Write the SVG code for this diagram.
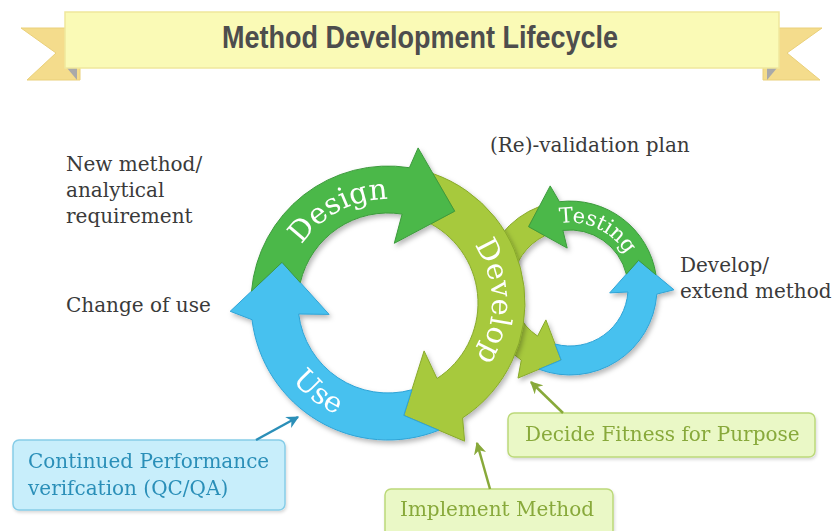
<svg xmlns="http://www.w3.org/2000/svg" width="833" height="531" viewBox="0 0 833 531">
<defs>
<style>
.lbl{font-family:"DejaVu Serif","Liberation Serif",serif;font-size:20px;fill:#3a3a3a}
.arr{font-family:"DejaVu Serif","Liberation Serif",serif;fill:#ffffff}
.dg{fill:#4cb849;stroke:#3c9a3c;stroke-width:1}
.lg{fill:#a7c93c;stroke:#88a92c;stroke-width:1}
.bl{fill:#47c1ef;stroke:#2ea3d6;stroke-width:1}
.gbox{fill:#eaf8c6;stroke:#bcd97a;stroke-width:1.5}
.gtxt{font-family:"DejaVu Serif","Liberation Serif",serif;font-size:20px;fill:#88a93a}
.bbox{fill:#c8eefb;stroke:#86cde8;stroke-width:1.5}
.btxt{font-family:"DejaVu Serif","Liberation Serif",serif;font-size:20px;fill:#2b8fb8}
</style>
<filter id="sh" x="-20%" y="-20%" width="140%" height="140%">
<feDropShadow dx="2" dy="3" stdDeviation="2.5" flood-color="#000" flood-opacity="0.28"/>
</filter>
<filter id="sh2" x="-10%" y="-20%" width="120%" height="150%">
<feDropShadow dx="1" dy="2" stdDeviation="1.5" flood-color="#000" flood-opacity="0.15"/>
</filter>
<marker id="ahg" viewBox="0 0 10 10" refX="9" refY="5" markerWidth="5" markerHeight="5" orient="auto" markerUnits="strokeWidth">
<path d="M0,0 L10,5 L0,10 L3,5 Z" fill="#88a93a"/>
</marker>
<marker id="ahb" viewBox="0 0 10 10" refX="9" refY="5" markerWidth="5" markerHeight="5" orient="auto" markerUnits="strokeWidth">
<path d="M0,0 L10,5 L0,10 L3,5 Z" fill="#2b8fb8"/>
</marker>
<path id="pDesign" d="M 288.54 272.59 A 104 104 0 0 1 418.41 203.54"/>
<path id="pDevelop" d="M 460.25 228.19 A 104 104 0 0 1 462.81 375.25"/>
<path id="pUse" d="M 265.92 317.99 A 123 123 0 0 0 402.99 425.08"/>
<path id="pTesting" d="M 547.6 226.45 A 65.5 65.5 0 0 1 631.55 265.6"/>
</defs>

<g id="title">
<polygon points="21,28 80,28 80,80 27,80 56,53" fill="#f4dc8c" stroke="#ead07a" stroke-width="1"/>
<polygon points="822,28 763,28 763,80 820,80 787,53" fill="#f4dc8c" stroke="#ead07a" stroke-width="1"/>
<polygon points="67,68 77,68 77,80" fill="#a9a9a9"/>
<polygon points="777,68 767,68 767,80" fill="#a9a9a9"/>
<rect x="65" y="12" width="714" height="56" fill="#fafab6" stroke="#efe79c" stroke-width="1.5"/>
<text x="420" y="48" text-anchor="middle" font-family="'Liberation Sans',Arial,sans-serif" font-size="31" font-weight="bold" fill="#4d4d4d" textLength="396" lengthAdjust="spacingAndGlyphs">Method Development Lifecycle</text>
</g>

<g id="small-loop" filter="url(#sh)">
<g id="develop-loop">
<path class="lg" d="M 539.23 206.62 A 87 87 0 0 0 521.3 360.1 L 518 378.1 L 561.2 360.0 L 545.9 319.9 L 537.6 336.1 A 58 58 0 0 1 544.87 235.72 L 528.6 226.7 Z"/>
</g>
<g id="use-loop">
<path class="bl" d="M 539.02 369.29 A 87 87 0 0 0 656.8 294.1 L 674.0 289.8 L 638.6 260.3 L 609.7 292.9 L 627.9 292.0 A 58 58 0 0 1 555.12 344.06 L 561.2 360.0 Z"/>
</g>
<g id="testing">
<path class="dg" d="M 655.99 274.79 A 87 87 0 0 0 559.4 201.7 L 550.2 185.9 L 528.6 226.7 L 567.2 248.1 L 562.9 230.4 A 58 58 0 0 1 626.32 274.15 L 638.6 260.3 Z"/>
<text class="arr" font-size="21"><textPath href="#pTesting" startOffset="50%" text-anchor="middle">Testing</textPath></text>
</g>
</g>

<g id="big-loop" filter="url(#sh)">
<g id="develop">
<path class="lg" d="M 432.95 173.59 A 137 137 0 0 1 462.6 417.9 L 464.6 441.2 L 403.8 415.4 L 424.1 350.9 L 437.0 378.5 A 90 90 0 0 0 430.87 223.87 L 454.7 211.2 Z"/>
<text class="arr" font-size="29"><textPath href="#pDevelop" startOffset="50%" text-anchor="middle">Develop</textPath></text>
</g>
<g id="use">
<path class="bl" d="M 438.78 430.25 A 137 137 0 0 1 252.0 319.7 L 230.2 311.3 L 282.0 262.3 L 329.1 314.4 L 298.7 314.0 A 90 90 0 0 0 411.86 389.78 L 403.8 415.4 Z"/>
<text class="arr" font-size="29"><textPath href="#pUse" startOffset="50%" text-anchor="middle">Use</textPath></text>
</g>
<g id="design">
<path class="dg" d="M 251.5 291.1 A 137 137 0 0 1 409.4 167.7 L 418.1 147.9 L 454.7 211.2 L 394.3 243.3 L 402.1 214.1 A 90 90 0 0 0 300.3 282.6 L 282.0 262.3 Z"/>
<text class="arr" font-size="29"><textPath href="#pDesign" startOffset="50%" text-anchor="middle">Design</textPath></text>
</g>
</g>

<g id="new-method">
<text class="lbl" x="66" y="171">New method/</text>
<text class="lbl" x="66" y="197">analytical</text>
<text class="lbl" x="66" y="223">requirement</text>
</g>
<g id="change-of-use"><text class="lbl" x="66" y="312">Change of use</text></g>
<g id="revalidation"><text class="lbl" x="490" y="152">(Re)-validation plan</text></g>
<g id="develop-extend">
<text class="lbl" x="680" y="272">Develop/</text>
<text class="lbl" x="680" y="298">extend method</text>
</g>

<g id="continued-performance" filter="url(#sh2)">
<rect class="bbox" x="13" y="440" width="272" height="70" rx="6"/>
<text class="btxt" x="28" y="468">Continued Performance</text>
<text class="btxt" x="28" y="495">verifcation (QC/QA)</text>
</g>
<g id="decide-fitness" filter="url(#sh2)">
<rect class="gbox" x="508" y="413" width="307" height="44" rx="6"/>
<text class="gtxt" x="525" y="441">Decide Fitness for Purpose</text>
</g>
<g id="implement-method" filter="url(#sh2)">
<rect class="gbox" x="385" y="489" width="228" height="48" rx="6"/>
<text class="gtxt" x="400" y="516">Implement Method</text>
</g>

<g id="connectors">
<line x1="256" y1="440" x2="298" y2="417" stroke="#2b8fb8" stroke-width="2.5" marker-end="url(#ahb)"/>
<line x1="490" y1="489" x2="477" y2="443" stroke="#88a93a" stroke-width="2.5" marker-end="url(#ahg)"/>
<line x1="563" y1="413" x2="531" y2="382" stroke="#88a93a" stroke-width="2.5" marker-end="url(#ahg)"/>
</g>
</svg>
